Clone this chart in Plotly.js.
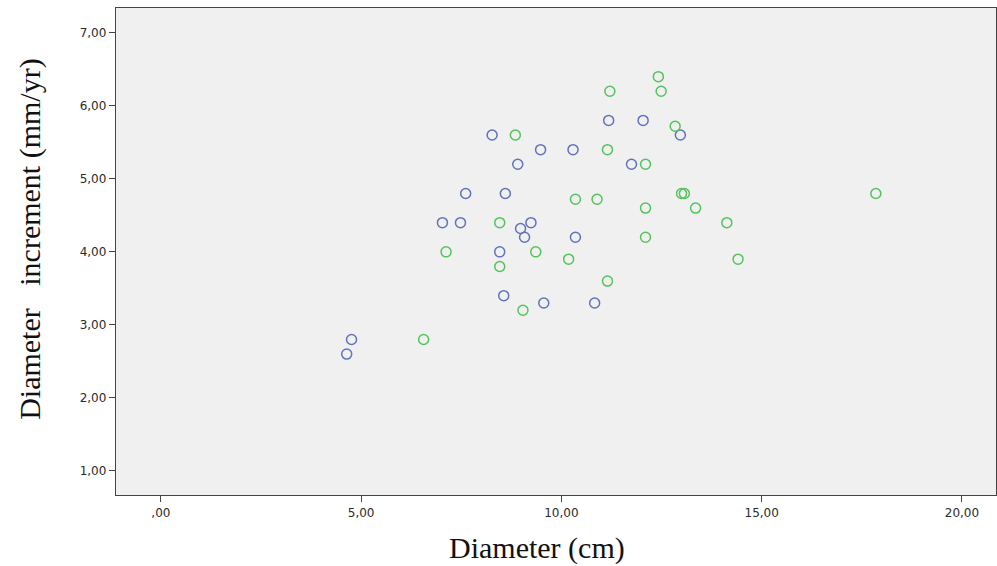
<!DOCTYPE html>
<html>
<head>
<meta charset="utf-8">
<script src="https://cdn.plot.ly/plotly-3.0.1.min.js"></script>
<style>html,body{margin:0;padding:0;background:#fff;}#chart{width:997px;height:566px;}</style>
</head>
<body>
<div id="chart"></div>
<script>
// Blue group
const blueX = [11.18, 12.04, 12.97, 8.27, 9.48, 10.29, 8.91, 11.75, 7.61, 8.60, 7.03, 7.48, 9.24, 8.98, 9.08, 10.35, 8.46, 8.56, 9.56, 10.83, 4.76, 4.64];
const blueY = [5.8, 5.8, 5.6, 5.6, 5.4, 5.4, 5.2, 5.2, 4.8, 4.8, 4.4, 4.4, 4.4, 4.32, 4.2, 4.2, 4.0, 3.4, 3.3, 3.3, 2.8, 2.6];
// Green group
const greenX = [12.42, 11.21, 12.49, 12.84, 8.85, 11.15, 12.10, 13.00, 13.07, 10.35, 10.89, 12.10, 13.35, 8.46, 12.10, 7.12, 9.36, 10.18, 8.46, 11.15, 9.04, 17.85, 14.41, 14.13, 6.56];
const greenY = [6.4, 6.2, 6.2, 5.72, 5.6, 5.4, 5.2, 4.8, 4.8, 4.72, 4.72, 4.6, 4.6, 4.4, 4.2, 4.0, 4.0, 3.9, 3.8, 3.6, 3.2, 4.8, 3.9, 4.4, 2.8];

const xTickVals = [0, 5, 10, 15, 20];
const xTickText = [",00", "5,00", "10,00", "15,00", "20,00"];
const yTickVals = [1, 2, 3, 4, 5, 6, 7];
const yTickText = ["1,00", "2,00", "3,00", "4,00", "5,00", "6,00", "7,00"];

const xTitle = 'Diameter (cm)';
const yTitle = 'Diameter\u00a0\u00a0\u00a0increment (mm/yr)';

const mk = (c) => ({symbol: 'circle-open', size: 10, color: c, line: {width: 1.5, color: c}});

const data = [
  {x: blueX, y: blueY, type: 'scatter', mode: 'markers', name: 'Blue', marker: mk('#6272bd'), showlegend: false},
  {x: greenX, y: greenY, type: 'scatter', mode: 'markers', name: 'Green', marker: mk('#52c45a'), showlegend: false}
];

const axisCommon = {
  showgrid: false, zeroline: false, showline: true, linecolor: '#444', linewidth: 1.2,
  ticks: 'outside', ticklen: 6, tickcolor: '#444', mirror: true,
  tickfont: {family: 'DejaVu Sans, Arial, sans-serif', size: 12, color: '#2a2a2a'}
};

const titleFont = {family: 'Liberation Serif, serif', color: '#111'};

const layout = {
  width: 997, height: 566,
  margin: {l: 116, r: 1, t: 8, b: 71},
  paper_bgcolor: '#ffffff', plot_bgcolor: '#f0f0f0',
  xaxis: Object.assign({}, axisCommon, {range: [-1.12, 20.85], tickvals: xTickVals, ticktext: xTickText}),
  yaxis: Object.assign({}, axisCommon, {range: [0.67, 7.34], tickvals: yTickVals, ticktext: yTickText}),
  annotations: [
    {text: xTitle, xref: 'paper', yref: 'paper', x: 0.478, y: -0.108, xanchor: 'center', yanchor: 'middle',
     showarrow: false, font: Object.assign({size: 30}, titleFont)},
    {text: yTitle, xref: 'paper', yref: 'paper', x: -0.0977, y: 0.526, xanchor: 'center', yanchor: 'middle',
     textangle: -90, showarrow: false, font: Object.assign({size: 30}, titleFont)}
  ]
};

Plotly.newPlot('chart', data, layout, {displayModeBar: false, staticPlot: true});
</script>
</body>
</html>
